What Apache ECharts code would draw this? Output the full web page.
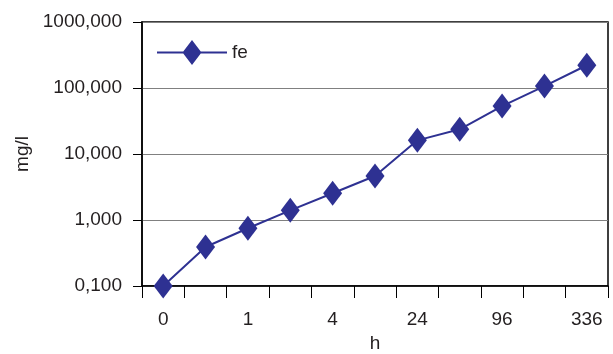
<!DOCTYPE html>
<html><head><meta charset="utf-8">
<script src="https://cdn.jsdelivr.net/npm/echarts@6/dist/echarts.min.js"></script>
<style>html,body{margin:0;padding:0;background:#fff}#c{width:613px;height:354px}</style>
</head><body><div id="c"></div>
<script>
const categories = ['0', '0.5', '1', '2', '4', '8', '24', '48', '96', '168', '336'];
const feValues = [0.1, 0.39, 0.75, 1.40, 2.54, 4.64, 16.1, 23.7, 53.3, 107, 221];
const seriesName = 'fe';
const xName = 'h';
const yName = 'mg/l';

const font = 'Liberation Sans, Arial, sans-serif';
const txt = '#231f20';
const navy = '#2e3192';
const legendIcon = 'path://M0,11.5L70,11.5L70,13.5L0,13.5Z M25.5,12.5L35,0L44.5,12.5L35,25Z';
const chart = echarts.init(document.getElementById('c'), null, {renderer: 'canvas'});
chart.setOption({
  animation: false,
  grid: {left: 142, right: 5, top: 22, bottom: 68, show: true, borderColor: '#000', borderWidth: 1.5,
    containLabel: false, outerBoundsMode: 'none'},
  legend: {
    data: [{name: seriesName, icon: legendIcon}], left: 152, top: 35, itemWidth: 70, itemHeight: 25,
    itemStyle: {color: navy, borderWidth: 0},
    textStyle: {fontFamily: font, fontSize: 19, color: txt}
  },
  xAxis: {
    type: 'category', data: categories, boundaryGap: true,
    name: xName, nameLocation: 'middle', nameGap: 47,
    nameTextStyle: {fontFamily: font, fontSize: 19, color: txt},
    axisLine: {lineStyle: {color: '#000', width: 1.5}},
    axisTick: {show: true, length: 12, interval: 0, lineStyle: {color: '#000'}},
    axisLabel: {interval: 1, margin: 24, fontFamily: font, fontSize: 19, color: txt},
    splitLine: {show: false}
  },
  yAxis: {
    type: 'log', logBase: 10, min: 0.1, max: 1000,
    name: yName, nameLocation: 'middle', nameGap: 104, nameRotate: 90,
    nameTextStyle: {fontFamily: font, fontSize: 19, color: txt},
    axisLine: {show: true, lineStyle: {color: '#000', width: 1.5}},
    axisTick: {show: true, length: 9, lineStyle: {color: '#000'}},
    axisLabel: {margin: 20, fontFamily: font, fontSize: 19, color: txt,
      formatter: v => Number(v).toFixed(3).replace('.', ',')},
    splitLine: {show: true, lineStyle: {color: '#808080', width: 1.2}},
    minorTick: {show: false}
  },
  series: [{
    name: seriesName, type: 'line', data: feValues,
    symbol: 'diamond', symbolSize: [19, 25],
    lineStyle: {color: navy, width: 2},
    itemStyle: {color: navy}
  }]
});
</script></body></html>
